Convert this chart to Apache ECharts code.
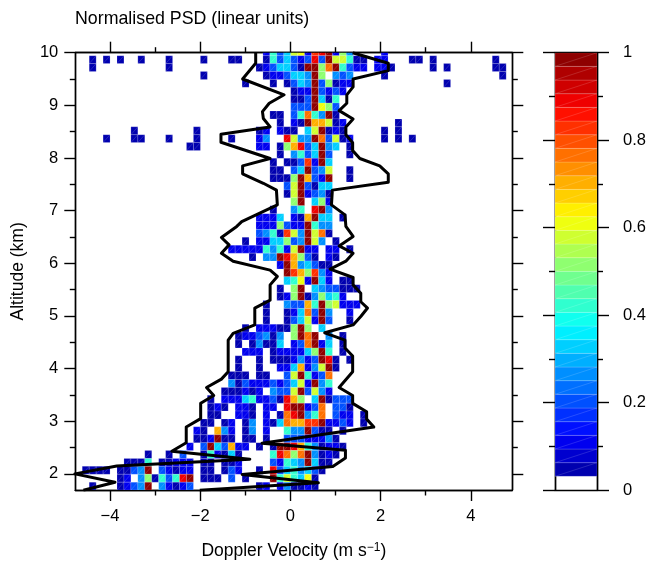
<!DOCTYPE html>
<html>
<head>
<meta charset="utf-8">
<title>Normalised PSD</title>
<style>html,body{margin:0;padding:0;background:#fff}</style>
</head>
<body>
<div id="main" style="width:650px;height:562px;"></div>
<script src="https://cdn.jsdelivr.net/npm/echarts@6/dist/echarts.min.js"></script>
<script>
// spectrum bins
var velStart = -4.77, velStep = 0.1541;
var altTop = 10.018, altStep = 0.15;

// one entry per range gate, top gate first: runs of [first velocity bin, [PSD values]]
var psdRows = [
 [[27,[.1,.42,.19,.33,.58,.62,.1,.83,.9,.98,.1,.5,.27]],[44,[.1]]],
 [[2,[.05]],[4,[.05]],[6,[.05]],[9,[.05]],[13,[.05]],[18,[.05]],[22,[.05,.05]],[27,[.05,.42,.19,.33,.19,.1,.19,.9,.19,.98,.58,.58,.42,.05,.05]],[43,[.1,.1]],[48,[.05,.05]],[51,[.05]],[60,[.05]]],
 [[2,[.05]],[13,[.05]],[26,[.05,.1,.19,.33,.33,.19,.05,.98,.98,.5,.75,.98,.42,.19,.1,.1]],[43,[.1,.1,.05]],[51,[.05]],[53,[.05]],[60,[.05,.05]]],
 [[18,[.05]],[27,[.05,.1,.1,.19,.33,.33,.27,.98,.5,0,.27,.19,.27]],[44,[.05]],[61,[.05]]],
 [[24,[.05]],[28,[.05]],[30,[.05,.19,.33,.27,.98,.19,.5,.05,.1,.1]],[53,[.05]]],
 [[31,[.05,.1,.1,.98,.19,.1,.19,.1]]],
 [[31,[.05,.05,.19,.98,.33,.05,.42]]],
 [[31,[.19,.19,.19,.98,.62,.5,.19]]],
 [[28,[.05,.05]],[31,[.19,.42,.75,.42,.27,.98,.05]]],
 [[29,[.05]],[31,[.1,.05,.98,.69,.69,.58,.05,.1]],[46,[.05]]],
 [[8,[.05]],[17,[.05]],[26,[.05,.1]],[29,[.1,.05,.05]],[33,[.33,.58,.98,.05,.1,.05]],[44,[.05]],[46,[.05]]],
 [[4,[.05]],[8,[.05,.05]],[13,[.05]],[17,[.05]],[22,[.05]],[26,[.1,.27]],[30,[.9,.58,.27,.27,.98,.75,.19,.58,.05,.1]],[44,[.05]],[46,[.05]],[48,[.05]]],
 [[16,[.05,.05]],[26,[.1,.1]],[29,[.05,.5,.69,.9,.19,.33,.98,.27,.33]],[39,[.05]]],
 [[29,[.05]],[31,[.27,.42,.19,.33,.98,.19]],[39,[.05]]],
 [[28,[.05]],[30,[.05,.05,.19,.83,.1,.98,.33]]],
 [[28,[.05,.05]],[31,[.19,.33,.98,.19,.27,.58]],[39,[.05]]],
 [[28,[.05,.05,.05,.5,.98,.69,.19,.1,.98]],[39,[.05]]],
 [[30,[.19,.58,.98,.19,.05,.33,.33]]],
 [[30,[.05,.58,.98,.1,.19,.27,.05]]],
 [[31,[.5,.98]],[34,[.33,.5,.1]]],
 [[28,[.05]],[31,[.27,.42]],[34,[.9,.98,.27]]],
 [[26,[.1,.1,.1,.33]],[31,[.1,.05,.69,.98,.33,.33]],[38,[.05]]],
 [[26,[.1,.1,.1,.5,.19,.1,.1,.98,.42,.27,.27]]],
 [[26,[.19,.27,.42,.05,.83,.58,.27,.98,.58,.75,.05]]],
 [[24,[.05]],[26,[.1,.1,.33,.33,.5,.19,.27,.98,.58,.27]],[37,[.05]]],
 [[22,[.1,.1,.1,.1,.1,.42,.27,.42,.1,.58,.98,.1,.1]],[36,[.1,.1]],[39,[.05]]],
 [[25,[.05]],[27,[.27,.27,.98,.9,.69,.5,.19,.05]],[36,[.1,.05]]],
 [[29,[.1,.98,.69,.27,.33,.19,.05,.05]]],
 [[30,[.98,.83,.69,.5,.83,.27,.1]]],
 [[30,[.33,.42,.62,.1,.98,.33,.1]],[38,[.05,.05]]],
 [[29,[.05]],[31,[.5,.98]],[34,[.33,.27,.19,.19,.05,.05,.05]]],
 [[29,[.05,.1,.5,.98,.05,.27,.5,.33,.42,.1]]],
 [[27,[.05]],[30,[.27,.19,.19,.69,.42,.98,.5,.58,.1,.1,.1]]],
 [[27,[.05]],[30,[.05,.1,.33,.75,.19,.98,.27]],[39,[.1]]],
 [[27,[.05]],[30,[.05,.19,.33,.58,.1,.98,.19]],[39,[.05]]],
 [[24,[.05]],[26,[.1,.1,.1,.05,.05,.5,.98,.5]],[35,[.33]]],
 [[23,[.05,.1,.1,.19,.27,.05,.27]],[31,[.5,.98,.75,.98]],[36,[.27]],[38,[.05]]],
 [[23,[.05]],[25,[.05,.27,.05,.05,.33]],[31,[.1,.19,.75,.98,.1,.33]],[38,[.05]]],
 [[24,[.1,.1,.1]],[28,[.05,.1,.1,.1,.1,.33,.5,.98,.42]],[38,[.05]]],
 [[23,[.05]],[26,[.05]],[28,[.05,.05,.05,.1,.27,.1,.19,.98,.9,.05]],[39,[.05]]],
 [[23,[.05]],[26,[.05]],[29,[.1,.1,.33,.69,.1,.27,.58,.98,.05]]],
 [[22,[.05,.05,.05]],[26,[.05,.05]],[30,[.19,.58,.98,.42,.1,.19,.75]]],
 [[22,[.27,.05,.19,.1,.1,.1,.19,.1,.19,.33,.58,.1,.98,.27,.42]]],
 [[21,[.05,.05,.05,.1,.05,.1]],[28,[.27,.19,.19,.58,.98,.19,.58,.27,.1]]],
 [[19,[.05]],[21,[.1,.1,.1,.33,.42,.1,.1,.19,.05,.9,.69,.5]],[34,[.33,.98,.05,.19,.19,.19]]],
 [[19,[.05,.1,.05]],[23,[.1,.1,.05]],[27,[.1,.1]],[30,[.9,.98,.98,.1,.19,.75]],[37,[.19,.19,.05]]],
 [[19,[.05,.05]],[23,[.1,.1,.05]],[27,[.1,0,.05,.75,.9,.98,.27,.42,.75]],[37,[.19,.1,.1]],[41,[.05]]],
 [[18,[.05,.05]],[21,[.05,.1]],[24,[.05,.27]],[27,[.1,.05,.33,.75,.69,.69,.83,.83,.98,.1,.1,.19,.1]],[41,[.05]]],
 [[17,[.1,.05]],[20,[.69,.27,.1]],[24,[.05,.27]],[27,[.1]],[30,[.42,.27,.27,.98,.19,.05,.05]],[38,[.05]]],
 [[17,[.05,.05,.1,.98,.05,.05]],[24,[.05,.05]],[27,[.05]],[30,[.19,.19,.19,.1,.1,.1,.27,.05]]],
 [[16,[.1]],[18,[.19,.98,.33,.19,.69,.1,.1]],[26,[.05]],[28,[.05,.98,.98,.9,.69,.42,.27,.05,.1,.1,.05]]],
 [[10,[.05]],[13,[.05]],[15,[.19]],[18,[.05,.42,.1,.05,.33,.05]],[28,[.42,.9,.75,.5,.75,.98,.27,.05,.1,.05]]],
 [[7,[.05,.05,.05,.42]],[12,[.05,.05,.1,.1,.1]],[18,[.05,.05]],[21,[.05,.05,.1]],[28,[.19,.1,.42,.33,.27,.98,.33,.05,.05]]],
 [[1,[.05,.05,.05,.05]],[6,[.05,.05,.19,.27,.98]],[12,[.19,.1,.05,.1,.1]],[18,[.05,.05]],[21,[.05,.19,.1]],[26,[.05]],[28,[.9,.19,.33,.42,.27,.33,.19,.05]]],
 [[6,[.05,.1]],[9,[.27,.5,.05,.42,.19,.42,.9,.98]],[18,[.05,.05,.05]],[22,[.19]],[24,[.05]],[28,[.98,.42,.58,.42,.33,.62,.05]]],
 [[2,[.05]],[6,[.05,.1,.19,.27,.98]],[12,[.27,.1,.05,.1,.19]],[26,[.05,.1]],[29,[.1,.27,.05,.05,.1,.05]]]
];

// spectral edges
var leftEdgeVel = [-.77,-.77,-1.06,-.14,-.47,-.62,-.6,-.45,-1.54,-1.54,-.45,-1.06,-1.06,-.6,-.31,-.29,-1.08,-1.19,-1.53,-1.36,-1.53,-1.27,-.45,-.29,-.45,-.45,-.79,-.79,-1.27,-1.38,-1.38,-1.53,-1.86,-1.7,-1.99,-1.99,-2.31,-2.31,-2.63,-.9,-3.85,-4.78,-3.89,-4.59];
var leftEdgeAlt = [10,9.8,9.5,9.2,9.04,8.88,8.75,8.59,8.45,8.3,7.99,7.85,7.7,7.52,7.39,7.11,6.79,6.7,6.49,6.35,6.19,6.04,5.87,5.75,5.59,5.3,5.15,4.83,4.67,4.54,3.94,3.8,3.64,3.49,3.34,3.05,2.89,2.59,2.43,2.28,2.15,2,1.84,1.69];
var rightEdgeVel = [1.38,2.17,2.17,1.39,1.39,1.25,1.25,1.08,1.39,1.23,1.23,1.38,1.38,1.54,1.98,2.17,2.17,.93,.91,1.21,1.23,1.39,1.08,1.39,1.23,.88,1.39,1.39,1.56,1.56,1.71,1.56,1.39,.76,1.21,1.21,1.38,1.38,1.08,1.38,1.38,1.69,1.69,1.85,-.63,1.22,1.22,.94,-1.07,.62,-2.01];
var rightEdgeAlt = [10,9.8,9.66,9.5,9.35,9.2,9.04,8.9,8.74,8.59,8.44,8.29,8.14,7.99,7.85,7.7,7.54,7.39,7.11,6.92,6.7,6.51,6.33,6.19,6.04,5.89,5.73,5.59,5.43,5.27,5.15,4.99,4.83,4.68,4.54,4.39,4.24,3.94,3.64,3.49,3.34,3.18,3.04,2.89,2.58,2.45,2.3,2.14,1.99,1.83,1.69];

// tick labels
var velTicks = [-4,-2,0,2,4];
var velMinorTicks = [-3,-1,1,3];
var altTicks = [2,3,4,5,6,7,8,9,10];
var altMinorTicks = [2.5,3.5,4.5,5.5,6.5,7.5,8.5,9.5];
var barTicks = [0,.2,.4,.6,.8,1];
var barMinorTicks = [.1,.3,.5,.7,.9];
var barLevels = 32;

var FONT = '"Liberation Sans", Arial, sans-serif';
var INK = '#000';
var TEXT_SIZE = 17.5;

function clamp01(a) { return Math.max(0, Math.min(1, a)); }

// jet, cut into barLevels flat bands, lowest band left white
function bandColour(band) {
    if (band <= 0) return '#fff';
    var x = (band + 0.5) / barLevels;
    var r = clamp01(1.5 - Math.abs(4 * x - 3));
    var g = clamp01(1.5 - Math.abs(4 * x - 2));
    var b = clamp01(1.5 - Math.abs(4 * x - 1));
    return 'rgb(' + Math.round(r * 255) + ',' + Math.round(g * 255) + ',' + Math.round(b * 255) + ')';
}

var psdCells = [];
psdRows.forEach(function (runs, row) {
    runs.forEach(function (run) {
        run[1].forEach(function (psd, i) {
            if (psd > 0) psdCells.push([velStart + (run[0] + i) * velStep, altTop + altStep / 2 - row * altStep, psd]);
        });
    });
});

var barBands = [];
for (var b = 0; b < barLevels; b++) barBands.push([b / barLevels, (b + 1) / barLevels, b]);

function zipped(xs, ys) {
    return xs.map(function (x, i) { return [x, ys[i]]; });
}

// light seam round each patch and across it, like the renderer of the original
function patch(x0, y0, x1, y1, colour) {
    return {
        type: 'group',
        children: [
            { type: 'rect', shape: { x: x0, y: y0, width: x1 - x0, height: y1 - y0 },
              style: { fill: colour, stroke: 'rgba(255,255,255,0.2)', lineWidth: 0.8 } },
            { type: 'line', shape: { x1: x0, y1: y1, x2: x1, y2: y0 },
              style: { stroke: 'rgba(255,255,255,0.25)', lineWidth: 0.6 } }
        ]
    };
}

function renderCell(params, api) {
    var a = api.coord([api.value(0), api.value(1)]);
    var c = api.coord([api.value(0) + velStep, api.value(1) - altStep]);
    return patch(a[0], a[1], c[0], c[1], bandColour(Math.floor(api.value(2) * barLevels)));
}

function renderBand(params, api) {
    var a = api.coord([0, api.value(1)]);
    var c = api.coord([1, api.value(0)]);
    if (api.value(2) === 0) return { type: 'group', children: [] };
    return patch(a[0], a[1], c[0], c[1], bandColour(api.value(2)));
}

// one axis carries one set of ticks, so major and minor ticks get an axis each
function tickAxis(opts) {
    var ax = {
        type: 'value',
        gridIndex: opts.grid,
        position: opts.position,
        min: opts.min,
        max: opts.max,
        splitLine: { show: false },
        axisLine: { show: true, onZero: false, lineStyle: { color: INK, width: 1.4 } },
        axisTick: { show: !!opts.ticks, length: opts.len, customValues: opts.ticks || [], lineStyle: { color: INK, width: 1.4 } },
        axisLabel: { show: false }
    };
    if (opts.labels) {
        ax.axisLabel = {
            show: true,
            customValues: opts.ticks,
            margin: opts.margin,
            color: INK,
            fontFamily: FONT,
            fontSize: 16.5,
            formatter: function (v) { return String(v).replace('-', '\u2212'); }
        };
    }
    if (opts.name) {
        ax.name = opts.name;
        ax.nameLocation = 'middle';
        ax.nameGap = opts.nameGap;
        ax.nameTextStyle = {
            color: INK, fontFamily: FONT, fontSize: TEXT_SIZE,
            rich: { sup: { fontFamily: FONT, fontSize: 12, verticalAlign: 'top', padding: [0, 0, 7, 0], color: INK } }
        };
    }
    return ax;
}

var velRange = { min: -4.77, max: 4.92 };
var altRange = { min: 1.694, max: 10 };

var xAxes = [
    tickAxis({ grid: 0, position: 'bottom', min: velRange.min, max: velRange.max, ticks: velTicks, len: 11, labels: true, margin: 18,
               name: 'Doppler Velocity (m s{sup|\u22121})', nameGap: 52 }),
    tickAxis({ grid: 0, position: 'bottom', min: velRange.min, max: velRange.max, ticks: velMinorTicks, len: 5.5 }),
    tickAxis({ grid: 0, position: 'top', min: velRange.min, max: velRange.max, ticks: velTicks, len: 11 }),
    tickAxis({ grid: 0, position: 'top', min: velRange.min, max: velRange.max, ticks: velMinorTicks, len: 5.5 }),
    tickAxis({ grid: 1, position: 'bottom', min: 0, max: 1 }),
    tickAxis({ grid: 1, position: 'top', min: 0, max: 1 })
];

var yAxes = [
    tickAxis({ grid: 0, position: 'left', min: altRange.min, max: altRange.max, ticks: altTicks, len: 11, labels: true, margin: 17,
               name: 'Altitude (km)', nameGap: 48 }),
    tickAxis({ grid: 0, position: 'left', min: altRange.min, max: altRange.max, ticks: altMinorTicks, len: 5.5 }),
    tickAxis({ grid: 0, position: 'right', min: altRange.min, max: altRange.max, ticks: altTicks, len: 11 }),
    tickAxis({ grid: 0, position: 'right', min: altRange.min, max: altRange.max, ticks: altMinorTicks, len: 5.5 }),
    tickAxis({ grid: 1, position: 'left', min: 0, max: 1, ticks: barTicks, len: 12 }),
    tickAxis({ grid: 1, position: 'left', min: 0, max: 1, ticks: barMinorTicks, len: 6 }),
    tickAxis({ grid: 1, position: 'right', min: 0, max: 1, ticks: barTicks, len: 12, labels: true, margin: 26 }),
    tickAxis({ grid: 1, position: 'right', min: 0, max: 1, ticks: barMinorTicks, len: 6 })
];

var myChart = echarts.init(document.getElementById('main'), null, { renderer: 'canvas' });

var edgeLine = {
    type: 'line',
    xAxisIndex: 0,
    yAxisIndex: 0,
    showSymbol: false,
    symbol: 'none',
    clip: true,
    silent: true,
    z: 5,
    lineStyle: { color: '#000', width: 3, join: 'round' }
};

var option = {
    animation: false,
    backgroundColor: '#fff',
    title: {
        text: 'Normalised PSD (linear units)',
        left: 75,
        top: 10,
        padding: 0,
        textStyle: { color: INK, fontFamily: FONT, fontSize: 17.8, fontWeight: 'normal' }
    },
    grid: [
        { left: 75.3, top: 52.7, width: 437, height: 437.3, outerBoundsMode: 'none' },
        { left: 555, top: 52.7, width: 42, height: 437.3, outerBoundsMode: 'none' }
    ],
    xAxis: xAxes,
    yAxis: yAxes,
    series: [
        { type: 'custom', xAxisIndex: 0, yAxisIndex: 0, clip: true, silent: true, z: 2,
          renderItem: renderCell, data: psdCells },
        Object.assign({}, edgeLine, { data: zipped(leftEdgeVel, leftEdgeAlt) }),
        Object.assign({}, edgeLine, { data: zipped(rightEdgeVel, rightEdgeAlt) }),
        { type: 'custom', xAxisIndex: 4, yAxisIndex: 4, clip: true, silent: true, z: 2,
          renderItem: renderBand, data: barBands }
    ]
};
myChart.setOption(option);
</script>
</body>
</html>
